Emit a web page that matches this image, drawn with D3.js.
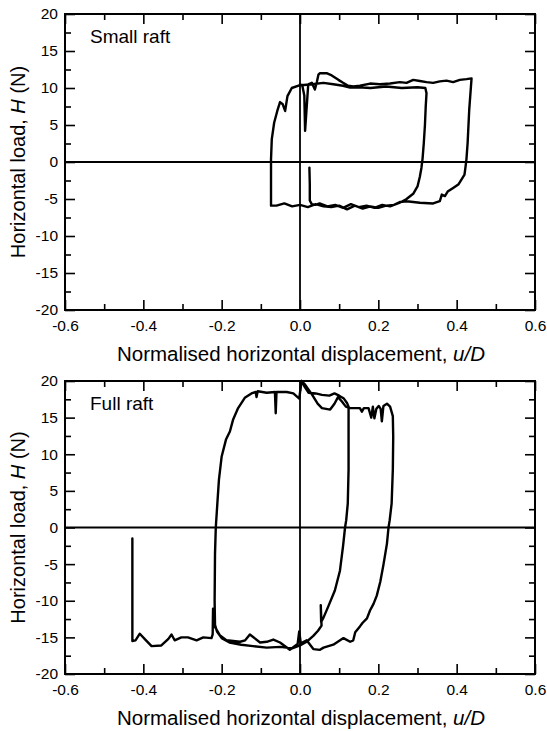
<!DOCTYPE html>
<html><head><meta charset="utf-8">
<script src="https://cdn.jsdelivr.net/npm/d3@7/dist/d3.min.js"></script>
<style>body{margin:0;background:#fff}svg{display:block}</style>
</head><body><svg id="chart" width="547" height="731"></svg>
<script>
const xTicks = [-0.6,-0.4,-0.2,0,0.2,0.4,0.6];
const xMinor = [-0.5,-0.3,-0.1,0.1,0.3,0.5];
const yTicks = [-20,-15,-10,-5,0,5,10,15,20];
const yMinor = [-17.5,-12.5,-7.5,-2.5,2.5,7.5,12.5,17.5];
const xTitle = "Normalised horizontal displacement, ";
const yTitle = "Horizontal load, ";
const panelNames = ["Small raft","Full raft"];

const smallU = [0.024,0.025,0.025,0.030,0.040,0.05,0.07,0.09,0.11,0.13,0.15,0.17,0.19,0.21,0.23,0.245,0.255,
 0.272,0.289,0.300,0.306,0.310,0.313,0.316,0.319,0.321,0.323,0.320,
 0.30,0.26,0.22,0.18,0.15,0.128,0.11,0.085,0.06,0.03,0.01,0.0,
 -0.021,-0.032,-0.038,-0.044,-0.051,-0.058,-0.066,-0.072,-0.074,-0.074,-0.074,
 -0.06,-0.04,-0.02,0.0,0.02,0.04,0.06,0.08,0.10,0.12,0.14,0.16,0.18,0.20,0.22,0.24,0.255,
 0.272,0.306,0.34,0.357,0.362,0.37,0.377,0.391,0.405,0.413,0.42,0.423,0.425,0.428,0.432,0.438,
 0.425,0.408,0.391,0.374,0.357,0.34,0.323,0.306,0.289,0.272,0.255,0.23,0.204,0.179,0.153,0.136,0.123,0.11,0.098,0.081,0.068,0.051,0.047,0.043,0.038,0.030,0.021,0.013,0.011,0.006,0.0];
const smallH = [-0.76,-3.0,-5.2,-5.7,-5.8,-5.6,-6.0,-5.8,-6.2,-5.7,-6.1,-5.9,-6.2,-5.8,-6.0,-5.7,-5.5,
 -5.0,-4.3,-3.3,-2.0,-0.8,0.5,2.5,5.0,7.5,9.3,10.0,
 10.1,10.0,10.2,10.0,10.1,10.05,10.3,10.5,10.7,10.5,10.4,10.4,
 10.0,8.9,6.9,7.8,8.1,6.9,5.3,3.1,0.4,-3.0,-5.9,
 -5.9,-5.6,-6.0,-5.8,-6.1,-5.7,-6.0,-6.1,-5.9,-6.4,-5.9,-6.3,-6.0,-6.2,-5.9,-5.8,-5.4,
 -5.3,-5.5,-5.6,-5.3,-4.4,-4.6,-4.0,-3.5,-3.0,-2.3,-1.7,-0.5,0.4,2.6,7.0,11.3,
 11.2,11.1,10.8,11.0,10.9,10.7,10.8,10.95,11.1,10.7,10.8,10.6,10.5,10.6,10.3,10.2,10.3,10.7,11.1,11.7,12.0,12.0,11.8,10.8,9.8,10.7,10.5,4.2,9.0,10.3,10.5];

const fullU = [0.002,0.004,0.012,0.022,0.04,0.056,0.075,0.088,0.1,0.112,0.12,0.124,
 0.124,0.124,0.122,0.118,0.115,0.11,0.102,0.089,0.072,0.060,0.054,0.053,0.055,0.046,0.034,0.017,0.0,
 -0.02,-0.05,-0.085,-0.12,-0.15,-0.18,-0.2,-0.212,-0.217,
 -0.218,-0.217,-0.215,-0.211,-0.207,-0.200,-0.189,-0.179,-0.171,-0.158,-0.141,-0.124,-0.113,-0.111,-0.108,-0.085,-0.064,-0.062,-0.060,-0.034,-0.017,-0.002,
 0.004,0.013,0.030,0.045,0.056,0.077,0.088,0.097,0.107,0.117,0.128,0.153,0.158,0.163,0.175,0.182,0.186,0.19,0.195,0.201,0.206,0.209,0.213,0.222,0.230,0.237,
 0.238,0.237,0.234,0.229,0.226,0.222,0.213,0.205,0.196,0.188,0.183,0.179,0.171,0.160,0.153,0.141,0.136,0.128,0.111,0.085,0.060,0.051,0.034,0.017,0.002,-0.002,-0.006,-0.026,-0.051,-0.068,-0.085,-0.102,-0.128,-0.14,-0.153,-0.188,-0.205,-0.219,-0.222,-0.223,-0.226,-0.247,-0.264,-0.286,-0.303,-0.320,-0.328,-0.336,-0.354,-0.379,-0.395,-0.409,-0.42,-0.428,-0.428];
const fullH = [19.8,20.0,19.2,18.4,18.3,18.1,18.0,18.3,18.0,17.6,17.0,16.5,
 12.0,7.9,3.3,1.0,0.0,-2.5,-5.9,-8.6,-10.8,-12.3,-12.9,-10.6,-13.4,-14.1,-14.8,-15.6,-16.1,
 -16.5,-16.3,-16.4,-16.2,-16.0,-15.7,-15.1,-14.2,-13.3,
 -10.0,-3.6,0.0,3.3,6.5,9.7,12.0,13.1,14.7,16.3,17.7,18.3,18.5,17.8,18.6,18.4,18.5,15.6,18.5,18.5,18.3,17.6,
 20.0,19.5,18.2,16.9,16.3,16.1,16.9,17.8,17.2,16.5,16.3,16.3,15.8,16.3,16.3,15.0,16.5,14.9,16.2,16.6,16.2,14.5,16.6,16.9,16.5,15.2,
 12.4,7.9,3.3,1.0,0.0,-2.2,-5.1,-7.4,-9.3,-10.4,-10.9,-11.3,-12.4,-13.0,-13.5,-14.3,-15.4,-15.6,-15.1,-16.0,-16.4,-16.7,-16.6,-15.4,-15.8,-14.2,-15.9,-16.7,-15.7,-15.3,-15.6,-15.7,-14.6,-15.4,-15.6,-15.4,-14.7,-13.4,-11.1,-14.6,-15.1,-15.0,-15.4,-15.0,-15.0,-15.4,-14.6,-15.2,-16.1,-16.2,-15.3,-14.5,-15.4,-15.5,-1.5];

const FONT = "'Liberation Sans', Arial, Helvetica, sans-serif";
const svg = d3.select("#chart");
const left = 65, right = 535;
const panels = [
  {top: 14, bottom: 310, u: smallU, h: smallH, name: panelNames[0]},
  {top: 381, bottom: 674, u: fullU, h: fullH, name: panelNames[1]}
];

panels.forEach(p => {
  const x = d3.scaleLinear().domain([-0.6, 0.6]).range([left, right]);
  const y = d3.scaleLinear().domain([-20, 20]).range([p.bottom, p.top]);
  const g = svg.append("g");
  const fmtX = d => d.toFixed(1);
  const fmtY = d => String(d);

  const ax = (gen, tx, ty) => {
    const a = g.append("g").attr("transform", `translate(${tx},${ty})`).call(gen);
    a.select(".domain").remove();
    a.selectAll("line").attr("stroke", "#000").attr("stroke-width", 1.6);
    a.selectAll("text").attr("font-family", FONT).attr("font-size", 15.5).attr("fill", "#000");
    return a;
  };
  ax(d3.axisBottom(x).tickValues(xTicks).tickSizeInner(-10).tickSizeOuter(0).tickPadding(10).tickFormat(fmtX), 0, p.bottom);
  ax(d3.axisBottom(x).tickValues(xMinor).tickSize(-6).tickFormat(""), 0, p.bottom);
  ax(d3.axisTop(x).tickValues(xTicks).tickSize(-10).tickFormat(""), 0, p.top);
  ax(d3.axisTop(x).tickValues(xMinor).tickSize(-6).tickFormat(""), 0, p.top);
  ax(d3.axisLeft(y).tickValues(yTicks).tickSizeInner(-10).tickSizeOuter(0).tickPadding(7).tickFormat(fmtY), left, 0);
  ax(d3.axisLeft(y).tickValues(yMinor).tickSize(-6).tickFormat(""), left, 0);
  ax(d3.axisRight(y).tickValues(yTicks).tickSize(-10).tickFormat(""), right, 0);
  ax(d3.axisRight(y).tickValues(yMinor).tickSize(-6).tickFormat(""), right, 0);

  // zero lines
  g.append("line").attr("x1", left).attr("x2", right).attr("y1", y(0)).attr("y2", y(0))
    .attr("stroke", "#000").attr("stroke-width", 1.8);
  g.append("line").attr("x1", x(0)).attr("x2", x(0)).attr("y1", p.top).attr("y2", p.bottom)
    .attr("stroke", "#000").attr("stroke-width", 1.8);

  // frame
  g.append("rect").attr("x", left).attr("y", p.top).attr("width", right - left).attr("height", p.bottom - p.top)
    .attr("fill", "none").attr("stroke", "#000").attr("stroke-width", 2);

  // curve
  const line = d3.line().x(d => x(d[0])).y(d => y(d[1]));
  g.append("path").datum(d3.zip(p.u, p.h)).attr("d", line)
    .attr("fill", "none").attr("stroke", "#000").attr("stroke-width", 2.4)
    .attr("stroke-linejoin", "round").attr("stroke-linecap", "round");

  // panel label
  g.append("text").attr("x", 90).attr("y", p.top + 29).text(p.name)
    .attr("font-family", FONT).attr("font-size", 19).attr("fill", "#000");

  // x title
  const xt = g.append("text").attr("x", (left + right) / 2 + 1).attr("y", p.bottom + 51)
    .attr("text-anchor", "middle").attr("font-family", FONT).attr("font-size", 20.5).attr("fill", "#000");
  xt.append("tspan").text(xTitle);
  xt.append("tspan").attr("font-style", "italic").text("u/D");

  // y title
  const yt = g.append("text").attr("transform", `translate(25,${(p.top + p.bottom) / 2}) rotate(-90)`)
    .attr("text-anchor", "middle").attr("font-family", FONT).attr("font-size", 20).attr("fill", "#000");
  yt.append("tspan").text(yTitle);
  yt.append("tspan").attr("font-style", "italic").text("H");
  yt.append("tspan").text(" (N)");
});
</script>
</body></html>
